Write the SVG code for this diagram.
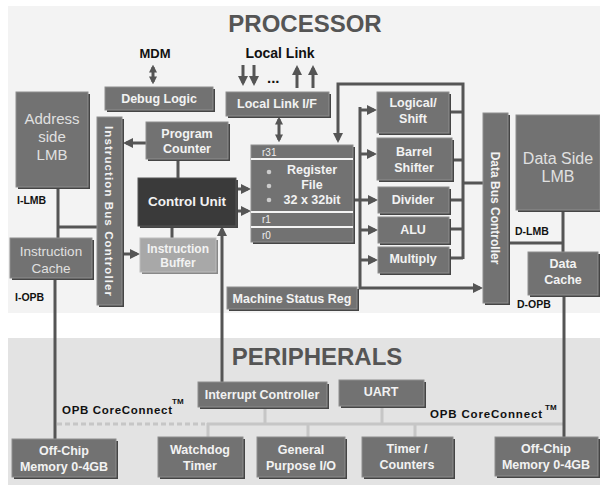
<svg xmlns="http://www.w3.org/2000/svg" width="600" height="485" viewBox="0 0 600 485">
<defs>
<style>
.bg1{fill:#f3f3f3}
.bg2{fill:#e3e3e3}
.sh{fill:#454545}
.bx{fill:#727272;stroke:#8e8e8e;stroke-width:1}
.dk{fill:#3a3a3a;stroke:#555;stroke-width:1}
.lt{fill:#a8a8a8;stroke:#bdbdbd;stroke-width:1}
.t{font-family:"Liberation Sans",Arial,sans-serif;font-weight:bold;font-size:12.5px;fill:#f2f2f2;text-anchor:middle}
.tl{font-family:"Liberation Sans",Arial,sans-serif;font-size:15px;fill:#e0e0e0;text-anchor:middle}
.k{font-family:"Liberation Sans",Arial,sans-serif;font-weight:bold;font-size:10.5px;fill:#111}
.h{font-family:"Liberation Sans",Arial,sans-serif;font-weight:bold;font-size:24px;fill:#555;text-anchor:middle}
.r{font-family:"Liberation Sans",Arial,sans-serif;font-size:10px;fill:#eee}
.ln{fill:none;stroke:#555;stroke-width:3}
.pl{fill:none;stroke:#c6c6c6;stroke-width:3}
.sep{stroke:#f4f4f4;stroke-width:2}
</style>
<marker id="ah" viewBox="0 0 10 10" refX="7" refY="5" markerWidth="10" markerHeight="10" markerUnits="userSpaceOnUse" orient="auto-start-reverse">
<path d="M0,0 L10,5 L0,10 z" fill="#555"/>
</marker>
<marker id="as" viewBox="0 0 10 10" refX="7" refY="5" markerWidth="8" markerHeight="9" markerUnits="userSpaceOnUse" orient="auto-start-reverse">
<path d="M0,0 L10,5 L0,10 z" fill="#555"/>
</marker>
</defs>

<rect class="bg1" x="8" y="6" width="592" height="307"/>
<rect class="bg2" x="8" y="338" width="592" height="147"/>
<text class="h" x="305" y="32">PROCESSOR</text>
<text class="h" x="317" y="365">PERIPHERALS</text>
<text class="k" x="155" y="58" style="font-size:13px;text-anchor:middle">MDM</text>
<text class="k" x="280" y="58" style="font-size:14px;text-anchor:middle">Local Link</text>
<text class="k" x="267" y="83" style="font-size:15px">...</text>
<text class="k" x="17" y="204">I-LMB</text>
<text class="k" x="15" y="301">I-OPB</text>
<text class="k" x="515" y="235">D-LMB</text>
<text class="k" x="517" y="308">D-OPB</text>
<text class="k" x="62" y="414" style="font-size:11.5px" textLength="110">OPB CoreConnect</text>
<text class="k" x="172" y="404" style="font-size:8px">TM</text>
<text class="k" x="430" y="418" style="font-size:11.5px" textLength="112">OPB CoreConnect</text>
<text class="k" x="545" y="410" style="font-size:8px">TM</text>

<g id="connectors">
<path class="pl" d="M57,424 H205" stroke-dasharray="5,3" stroke="#bcbcbc"/>
<path class="pl" d="M207,424 H563 M208,423 V437 M265,407 V424 M308,424 V437 M382,406 V424 M415,424 V437"/>
<path class="ln" d="M153,67 V82" marker-start="url(#as)" marker-end="url(#as)"/>
<path class="ln" d="M243,65 V83" marker-end="url(#ah)"/>
<path class="ln" d="M254,65 V83" marker-end="url(#ah)"/>
<path class="ln" d="M297,88 V68" marker-end="url(#ah)"/>
<path class="ln" d="M313,88 V68" marker-end="url(#ah)"/>
<path class="ln" d="M279,119 V140" marker-start="url(#as)" marker-end="url(#as)"/>
<path class="ln" d="M463,259 V84 H338 V140" marker-end="url(#ah)"/>
<path class="ln" d="M449,112 H463 M452,160 H463 M449,200 H463 M449,229 H463 M449,258 H463 M463,183 H483"/>
<path class="ln" d="M360,107 V288 H480" marker-end="url(#ah)"/>
<path class="ln" d="M360,110 H374" marker-end="url(#ah)"/>
<path class="ln" d="M360,154 H374" marker-end="url(#ah)"/>
<path class="ln" d="M360,230 H375" marker-end="url(#ah)"/>
<path class="ln" d="M360,260 H375" marker-end="url(#ah)"/>
<path class="ln" d="M353,200 H375" marker-end="url(#ah)"/>
<path class="ln" d="M236,189 H248" marker-end="url(#ah)"/>
<path class="ln" d="M236,211 H248" marker-end="url(#ah)"/>
<path class="ln" d="M146,143 H126" marker-end="url(#ah)"/>
<path class="ln" d="M178,160 V178 M172,226 V238"/>
<path class="ln" d="M122,254 H137" marker-end="url(#ah)"/>
<path class="ln" d="M222,382 V229" marker-end="url(#ah)"/>
<path class="ln" d="M58,187 V238 M58,227 H97"/>
<path class="ln" d="M55,278 V439"/>
<path class="ln" d="M563,210 V252 M508,243 H563"/>
<path class="ln" d="M564,295 V437"/>
</g>

<g id="debug-logic"><rect class="sh" x="107" y="89" width="108" height="23"/><rect class="bx" x="105" y="87" width="108" height="23"/><text class="t" x="159" y="103">Debug Logic</text></g>
<g id="local-link-if"><rect class="sh" x="228" y="94" width="103" height="24"/><rect class="bx" x="226" y="92" width="103" height="24"/><text class="t" x="277" y="108">Local Link I/F</text></g>
<g id="address-lmb"><rect class="sh" x="18" y="94" width="72" height="95"/><rect class="bx" x="16" y="92" width="72" height="95"/><text class="tl" x="52" y="124">Address</text><text class="tl" x="52" y="142">side</text><text class="tl" x="52" y="160">LMB</text></g>
<g id="instruction-cache"><rect class="sh" x="12" y="240" width="82" height="40"/><rect class="bx" x="10" y="238" width="82" height="40"/><text class="tl" x="51" y="256" style="font-size:13.5px">Instruction</text><text class="tl" x="51" y="273" style="font-size:13.5px">Cache</text></g>
<g id="instruction-bus-controller"><rect class="sh" x="99" y="119" width="25" height="188"/><rect class="bx" x="97" y="117" width="25" height="188"/><text class="t" transform="translate(109,211) rotate(90)" y="4" style="font-size:11.5px" textLength="170">Instruction Bus Controller</text></g>
<g id="program-counter"><rect class="sh" x="148" y="124" width="82" height="37"/><rect class="bx" x="146" y="122" width="82" height="37"/><text class="t" x="187" y="138">Program</text><text class="t" x="187" y="153">Counter</text></g>
<g id="control-unit"><rect class="sh" x="140" y="180" width="98" height="48"/><rect class="dk" x="138" y="178" width="98" height="48"/><text class="t" x="187" y="206" style="font-size:13.5px">Control Unit</text></g>
<g id="instruction-buffer"><rect x="142" y="240" width="76" height="34" fill="#888"/><rect class="lt" x="140" y="238" width="76" height="34"/><text class="t" x="178" y="253" style="font-size:12px">Instruction</text><text class="t" x="178" y="267" style="font-size:12px">Buffer</text></g>
<g id="register-file">
<rect class="sh" x="253" y="147" width="102" height="97"/>
<rect class="bx" x="251" y="145" width="102" height="97"/>
<line class="sep" x1="251" y1="159" x2="353" y2="159"/>
<line class="sep" x1="251" y1="212" x2="353" y2="212"/>
<line class="sep" x1="251" y1="227" x2="353" y2="227"/>
<text class="r" x="262" y="156">r31</text>
<circle cx="269" cy="172" r="2.3" fill="#ccc"/><circle cx="269" cy="186" r="2.3" fill="#ccc"/><circle cx="269" cy="200" r="2.3" fill="#ccc"/>
<text class="t" x="312" y="174">Register</text><text class="t" x="312" y="189">File</text><text class="t" x="312" y="204">32 x 32bit</text>
<text class="r" x="262" y="223">r1</text>
<text class="r" x="262" y="239">r0</text>
</g>
<g id="logical-shift"><rect class="sh" x="379" y="94" width="72" height="41"/><rect class="bx" x="377" y="92" width="72" height="41"/><text class="t" x="413" y="107">Logical/</text><text class="t" x="413" y="123">Shift</text></g>
<g id="barrel-shifter"><rect class="sh" x="379" y="140" width="75" height="42"/><rect class="bx" x="377" y="138" width="75" height="42"/><text class="t" x="414" y="156">Barrel</text><text class="t" x="414" y="172">Shifter</text></g>
<g id="divider"><rect class="sh" x="380" y="189" width="71" height="26"/><rect class="bx" x="378" y="187" width="71" height="26"/><text class="t" x="413" y="204">Divider</text></g>
<g id="alu"><rect class="sh" x="380" y="219" width="71" height="26"/><rect class="bx" x="378" y="217" width="71" height="26"/><text class="t" x="413" y="234">ALU</text></g>
<g id="multiply"><rect class="sh" x="380" y="249" width="71" height="26"/><rect class="bx" x="378" y="247" width="71" height="26"/><text class="t" x="413" y="263">Multiply</text></g>
<g id="machine-status-reg"><rect class="sh" x="229" y="289" width="130" height="22"/><rect class="bx" x="227" y="287" width="130" height="22"/><text class="t" x="292" y="303">Machine Status Reg</text></g>
<g id="data-bus-controller"><rect class="sh" x="485" y="115" width="25" height="190"/><rect class="bx" x="483" y="113" width="25" height="190"/><text class="t" transform="translate(495,208) rotate(90)" y="4" style="font-size:12px">Data Bus Controller</text></g>
<g id="data-side-lmb"><rect class="sh" x="518" y="117" width="82" height="95"/><rect class="bx" x="516" y="115" width="84" height="95"/><text class="tl" x="558" y="164" style="font-size:16px">Data Side</text><text class="tl" x="558" y="182" style="font-size:16px">LMB</text></g>
<g id="data-cache"><rect class="sh" x="530" y="254" width="70" height="43"/><rect class="bx" x="528" y="252" width="70" height="43"/><text class="t" x="563" y="268">Data</text><text class="t" x="563" y="284">Cache</text></g>
<g id="interrupt-controller"><rect class="sh" x="200" y="384" width="129" height="25"/><rect class="bx" x="198" y="382" width="129" height="25"/><text class="t" x="262" y="399">Interrupt Controller</text></g>
<g id="uart"><rect class="sh" x="341" y="382" width="85" height="26"/><rect class="bx" x="339" y="380" width="85" height="26"/><text class="t" x="381" y="396">UART</text></g>
<g id="off-chip-left"><rect class="sh" x="14" y="441" width="104" height="38"/><rect class="bx" x="12" y="439" width="104" height="38"/><text class="t" x="64" y="455">Off-Chip</text><text class="t" x="64" y="471">Memory 0-4GB</text></g>
<g id="watchdog-timer"><rect class="sh" x="160" y="439" width="85" height="40"/><rect class="bx" x="158" y="437" width="85" height="40"/><text class="t" x="200" y="454">Watchdog</text><text class="t" x="200" y="470">Timer</text></g>
<g id="general-purpose-io"><rect class="sh" x="259" y="439" width="88" height="40"/><rect class="bx" x="257" y="437" width="88" height="40"/><text class="t" x="301" y="454">General</text><text class="t" x="301" y="470">Purpose I/O</text></g>
<g id="timer-counters"><rect class="sh" x="364" y="439" width="91" height="40"/><rect class="bx" x="362" y="437" width="91" height="40"/><text class="t" x="407" y="453">Timer /</text><text class="t" x="407" y="469">Counters</text></g>
<g id="off-chip-right"><rect class="sh" x="497" y="439" width="103" height="39"/><rect class="bx" x="495" y="437" width="103" height="39"/><text class="t" x="546" y="453">Off-Chip</text><text class="t" x="546" y="469">Memory 0-4GB</text></g>
</svg>
